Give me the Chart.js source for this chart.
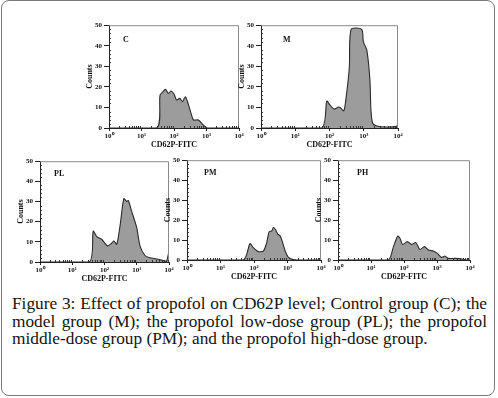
<!DOCTYPE html>
<html>
<head>
<meta charset="utf-8">
<script src="https://cdn.jsdelivr.net/npm/chart.js@4.4.0/dist/chart.umd.min.js"></script>
<style>
  body { margin: 0; width: 498px; height: 398px; background: #fff; position: relative; overflow: hidden; font-family: "Liberation Serif", serif; }
  #frame { position: absolute; left: 1px; top: 0; width: 494px; height: 396px; border: 1.5px solid #7a7a7a; border-radius: 8px; box-sizing: border-box; }
  .panel { position: absolute; }
  .tag { position: absolute; font: bold 8px "Liberation Serif", serif; color: #111; }
  #caption { position: absolute; left: 12px; top: 295px; width: 475px; font-size: 17.3px; line-height: 17.6px; text-align: justify; color: #141414; }
</style>
</head>
<body>
<div id="frame"></div>
<div id="panels"></div>
<div id="caption">Figure 3: Effect of propofol on CD62P level; Control group (C); the model group (M); the propofol low-dose group (PL); the propofol middle-dose group (PM); and the propofol high-dose group.</div>

<script>
// ── Axis labels ──────────────────────────────────────────────────────────────
const xTickLabels = ['10⁰', '10¹', '10²', '10³', '10⁴'];   // decades of CD62P-FITC
const yMax        = 50;
const xTitle      = 'CD62P-FITC';
const yTitle      = 'Counts';

// ── Histograms: x = log10 fluorescence, y = counts ───────────────────────────
const cX  = [0, 1.47, 1.57, 1.65, 1.74, 1.83, 1.91, 2.0, 2.08, 2.18, 2.26, 2.35, 2.44, 2.54, 2.6, 2.75, 2.9, 3.02, 4.0];
const cY  = [0, 0, 16, 17.5, 18.8, 16.8, 18, 16.5, 13.6, 14.4, 12.8, 15.2, 11.6, 6.3, 3.9, 3.9, 1.5, 0, 0];

const mX  = [0, 1.77, 1.92, 2.01, 2.14, 2.26, 2.31, 2.42, 2.5, 2.58, 2.63, 2.94, 2.99, 3.09, 3.18, 3.21, 3.26, 3.38, 3.67, 3.96, 4.0];
const mY  = [0, 0, 13.1, 11.2, 9.2, 10.2, 10, 8.4, 16.8, 29.8, 48, 48, 41.9, 37.9, 23.3, 8.7, 2.3, 1, 0.5, 0.8, 2];

const plX = [0, 1.53, 1.65, 1.76, 1.91, 2.09, 2.22, 2.29, 2.38, 2.48, 2.6, 2.69, 2.74, 2.84, 3.0, 3.1, 3.26, 3.41, 3.62, 3.88, 3.93, 4.0];
const plY = [0, 0, 15.3, 12.6, 11.3, 8, 9.3, 10.4, 8.8, 17.8, 31.4, 30, 30.5, 25.2, 17, 8, 3.1, 2.1, 1.5, 0.5, 0.6, 5.5];

const pmX = [0, 1.68, 1.88, 1.98, 2.13, 2.28, 2.38, 2.45, 2.53, 2.58, 2.63, 2.71, 2.78, 2.84, 2.93, 3.02, 3.17, 3.3, 4.0];
const pmY = [0, 0, 8.2, 6.2, 4.2, 4.5, 8.7, 14.1, 14.6, 16.3, 15.5, 13, 12.1, 9.6, 4.5, 1.5, 0.2, 0, 0];

const phX = [0, 1.52, 1.68, 1.81, 1.88, 1.96, 2.1, 2.23, 2.36, 2.48, 2.62, 2.74, 2.89, 3.01, 3.14, 3.24, 3.34, 3.55, 3.75, 3.88, 4.0];
const phY = [0, 0, 6.7, 12, 10.8, 7.8, 9.2, 7.8, 8.7, 5.3, 6.7, 5, 4.5, 3.3, 1.3, 2, 0.8, 0.8, 0.5, 0, 0];

// ── Panel layout (plot area in page pixels) ──────────────────────────────────
const PANELS = [
  { tag: 'C',  xs: cX,  ys: cY,  L: 109, R: 239, T: 25,  B: 128, tagDx: 14, tagDy: 10 },
  { tag: 'M',  xs: mX,  ys: mY,  L: 261, R: 398, T: 25,  B: 128, tagDx: 22, tagDy: 10 },
  { tag: 'PL', xs: plX, ys: plY, L: 40,  R: 169, T: 161, B: 262, tagDx: 14, tagDy: 8 },
  { tag: 'PM', xs: pmX, ys: pmY, L: 187, R: 321, T: 160, B: 260, tagDx: 17, tagDy: 8 },
  { tag: 'PH', xs: phX, ys: phY, L: 338, R: 470, T: 160, B: 260, tagDx: 19, tagDy: 8 },
];
const Y_W = 24, X_H = 22, PAD = 6;
const FONT = '"Liberation Serif", serif';

// box top/right edges + small inward minor ticks
const framePlugin = {
  id: 'frame',
  afterDraw(chart) {
    const { ctx, chartArea: a, scales } = chart;
    ctx.save();
    ctx.strokeStyle = '#8a8a8a';
    ctx.lineWidth = 1;
    ctx.beginPath();
    ctx.moveTo(a.left, a.top + 0.5); ctx.lineTo(a.right - 0.5, a.top + 0.5); ctx.lineTo(a.right - 0.5, a.bottom);
    ctx.stroke();
    ctx.strokeStyle = '#333';
    ctx.beginPath();
    scales.x.ticks.forEach(t => {
      if (Number.isInteger(t.value)) return;
      const px = Math.round(scales.x.getPixelForValue(t.value)) + 0.5;
      ctx.moveTo(px, a.bottom); ctx.lineTo(px, a.bottom - 2);
    });
    scales.y.ticks.forEach(t => {
      if (t.value % 10 === 0) return;
      const py = Math.round(scales.y.getPixelForValue(t.value)) + 0.5;
      ctx.moveTo(a.left, py); ctx.lineTo(a.left + 2, py);
    });
    ctx.stroke();
    ctx.restore();
  }
};

function makePanel(p, i) {
  const wrap = document.getElementById('panels');
  const cv = document.createElement('canvas');
  const w = Y_W + (p.R - p.L) + PAD, h = PAD + (p.B - p.T) + X_H;
  cv.width = w; cv.height = h;
  cv.className = 'panel';
  cv.style.left = (p.L - Y_W) + 'px';
  cv.style.top = (p.T - PAD) + 'px';
  wrap.appendChild(cv);

  const tag = document.createElement('div');
  tag.className = 'tag';
  tag.textContent = p.tag;
  tag.style.left = (p.L + p.tagDx) + 'px';
  tag.style.top = (p.T + p.tagDy) + 'px';
  wrap.appendChild(tag);

  new Chart(cv, {
    type: 'line',
    data: {
      datasets: [{
        data: p.xs.map((x, k) => ({ x, y: p.ys[k] })),
        fill: 'origin',
        backgroundColor: '#9c9c9c',
        borderColor: '#2a2a2a',
        borderWidth: 1.1,
        pointRadius: 0,
        tension: 0.25,
      }],
    },
    options: {
      responsive: false,
      animation: false,
      events: [],
      layout: { padding: { top: PAD, right: PAD, left: 0, bottom: 0 } },
      plugins: { legend: { display: false }, tooltip: { enabled: false } },
      scales: {
        x: {
          type: 'linear', min: 0, max: xTickLabels.length - 1,
          afterBuildTicks: s => {
            const ticks = [];
            for (let d = 0; d < xTickLabels.length - 1; d++)
              for (let k = 1; k <= 9; k++) ticks.push({ value: d + Math.log10(k) });
            ticks.push({ value: xTickLabels.length - 1 });
            s.ticks = ticks;
          },
          afterFit: s => { s.height = X_H; },
          grid: {
            drawOnChartArea: false, tickLength: 3, tickWidth: 1,
            tickColor: c => (c.tick && Number.isInteger(c.tick.value) ? '#222' : 'rgba(0,0,0,0)'),
          },
          border: { color: '#222', width: 1 },
          ticks: {
            autoSkip: false, maxRotation: 0, padding: 1, color: '#111',
            font: { family: FONT, size: 7, weight: 'bold' },
            callback: v => (Number.isInteger(v) ? xTickLabels[v] : ''),
          },
          title: { display: true, text: xTitle, color: '#111', padding: 0, font: { family: FONT, size: 8, weight: 'bold' } },
        },
        y: {
          min: 0, max: yMax,
          afterBuildTicks: s => {
            const ticks = [];
            for (let v = 0; v <= yMax; v += 2) ticks.push({ value: v });
            s.ticks = ticks;
          },
          afterFit: s => { s.width = Y_W; },
          grid: {
            drawOnChartArea: false, tickLength: 5, tickWidth: 1,
            tickColor: c => (c.tick && c.tick.value % 10 === 0 ? '#222' : 'rgba(0,0,0,0)'),
          },
          border: { color: '#222', width: 1 },
          ticks: {
            autoSkip: false, padding: 2, color: '#111',
            font: { family: FONT, size: 7, weight: 'bold' },
            callback: v => (v % 10 === 0 ? String(v) : ''),
          },
          title: { display: true, text: yTitle, color: '#111', padding: 0, font: { family: FONT, size: 8, weight: 'bold' } },
        },
      },
    },
    plugins: [framePlugin],
  });
}

PANELS.forEach(makePanel);
</script>
</body>
</html>
